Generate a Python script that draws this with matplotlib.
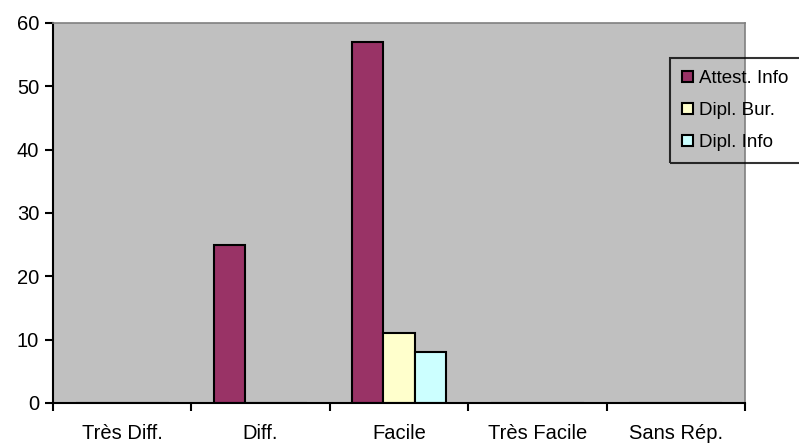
import matplotlib
matplotlib.use("Agg")
import matplotlib.pyplot as plt
import numpy as np
from matplotlib.ticker import FixedLocator, NullFormatter

categories = ["Très Diff.", "Diff.", "Facile", "Très Facile", "Sans Rép."]
series_names = ["Attest. Info", "Dipl. Bur.", "Dipl. Info"]
attest_info = [0, 25, 57, 0, 0]
dipl_bur = [0, 0, 11, 0, 0]
dipl_info = [0, 0, 8, 0, 0]
colors = ["#993366", "#FFFFCC", "#CCFFFF"]

plt.rcParams["font.family"] = ["Liberation Sans", "DejaVu Sans"]

fig = plt.figure(figsize=(7.99, 4.43), dpi=100)
ax = fig.add_axes([53 / 799, 40 / 443, 692 / 799, 380 / 443])
ax.set_facecolor("#C0C0C0")

x = np.arange(len(categories))
width = 0.224
for i, (vals, name, col) in enumerate(zip([attest_info, dipl_bur, dipl_info], series_names, colors)):
    ax.bar(x + (i - 1) * width, vals, width=width, color=col, edgecolor="black",
           linewidth=1.5, label=name)

ax.set_xlim(-0.5, len(categories) - 0.5)
ax.set_ylim(0, 60)
ax.set_yticks(range(0, 61, 10))
ax.set_xticks(x)
ax.set_xticklabels(categories)
ax.xaxis.set_minor_locator(FixedLocator(np.arange(-0.5, len(categories), 1)))
ax.xaxis.set_minor_formatter(NullFormatter())
ax.tick_params(axis="x", which="major", length=0, pad=15, labelsize=14.5)
ax.tick_params(axis="x", which="minor", length=6, width=1.5, direction="out")
ax.tick_params(axis="y", length=6, width=1.5, direction="out", labelsize=14.5, pad=4)

for s in ["left", "bottom"]:
    ax.spines[s].set_color("black")
    ax.spines[s].set_linewidth(1.5)
ax.spines["top"].set_color("#808080")
ax.spines["right"].set_color("#808080")
ax.spines["top"].set_linewidth(1.2)
ax.spines["right"].set_linewidth(1.2)

leg = fig.legend(loc="upper left", bbox_to_anchor=(670 / 799, 1 - 58 / 443),
                 frameon=True, fancybox=False, fontsize=13.5, handlelength=0.55,
                 handleheight=0.55, handletextpad=0.35, borderaxespad=0,
                 borderpad=0.65, labelspacing=0.8)
leg.get_frame().set_facecolor("none")
leg.get_frame().set_edgecolor("black")
leg.get_frame().set_linewidth(1.5)

fig.savefig("out.png", dpi=100)
